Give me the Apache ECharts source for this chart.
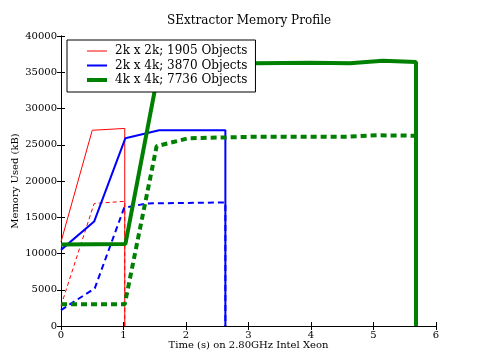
<!DOCTYPE html>
<html>
<head>
<meta charset="utf-8">
<script src="https://cdn.jsdelivr.net/npm/echarts@6/dist/echarts.min.js"></script>
<style>
  html, body { margin: 0; padding: 0; background: #fff; }
  #main { width: 485px; height: 363px; }
</style>
</head>
<body>
<div id="main"></div>
<script>
// time (s) and memory (kB)
const smallTime = [0, 0.5, 1.02, 1.02];
const smallMem = [11600, 27000, 27250, 0];
const smallDashTime = [0, 0.53, 1.02, 1.02];
const smallDashMem = [2800, 16900, 17200, 0];

const midTime = [0, 0.53, 1.03, 1.57, 2.63, 2.63];
const midMem = [10500, 14400, 25900, 27000, 27000, 0];
const midDashTime = [0, 0.54, 1.01, 1.37, 2.63, 2.63];
const midDashMem = [2200, 5200, 16300, 16900, 17050, 0];

const bigTime = [0, 1.03, 1.58, 3.1, 4.0, 4.62, 5.15, 5.68, 5.68];
const bigMem = [11250, 11300, 36100, 36230, 36300, 36250, 36600, 36400, 0];
const bigDashTime = [0, 1.02, 1.53, 2.04, 3.1, 4.57, 5.05, 5.68, 5.68];
const bigDashMem = [3000, 3000, 24800, 25900, 26100, 26100, 26300, 26250, 0];

const legendNames = ['2k x 2k; 1905 Objects', '2k x 4k; 3870 Objects', '4k x 4k; 7736 Objects'];
const legendWidths = [1, 2, 4];

const font = 'DejaVu Serif';

function pairs(xs, ys) {
    return xs.map((x, i) => [x, ys[i]]);
}

function line(name, xs, ys, color, width, dash) {
    return {
        name: name,
        type: 'line',
        data: pairs(xs, ys),
        symbol: 'none',
        animation: false,
        lineStyle: { color: color, width: width, type: dash || 'solid', cap: 'butt' },
        itemStyle: { color: color }
    };
}

const chart = echarts.init(document.getElementById('main'));

const axisLine = { show: true, lineStyle: { color: '#000', width: 1 } };
const tick = { show: true, inside: true, length: 4, lineStyle: { color: '#000' } };
const label = { color: '#000', fontFamily: font, fontSize: 10, formatter: v => String(v) };

let option = {
    backgroundColor: '#fff',
    title: {
        text: 'SExtractor Memory Profile',
        left: 167,
        top: 15,
        padding: 0,
        textStyle: { fontFamily: font, fontSize: 12, fontWeight: 'normal', color: '#000' }
    },
    grid: { left: 61, right: 49, top: 36, bottom: 37, containLabel: false, outerBoundsMode: 'none' },
    legend: {
        data: legendNames.map((n, i) => ({ name: n, lineStyle: { width: legendWidths[i] } })),
        orient: 'vertical',
        left: 67,
        top: 40,
        padding: [4, 8, 5, 18],
        itemGap: 0.5,
        itemWidth: 20,
        itemHeight: 10,
        borderColor: '#000',
        borderWidth: 1,
        backgroundColor: '#fff',
        selectedMode: false,
        itemStyle: { opacity: 0 },
        textStyle: { fontFamily: font, fontSize: 12, color: '#000', lineHeight: 14, padding: [0, 0, 0, 3] }
    },
    xAxis: [{
        type: 'value', min: 0, max: 6, interval: 1, position: 'bottom',
        axisLine: axisLine, axisTick: tick, splitLine: { show: false },
        axisLabel: Object.assign({ margin: 4 }, label),
        name: 'Time (s) on 2.80GHz Intel Xeon', nameLocation: 'middle', nameGap: 14,
        nameMoveOverlap: false,
        nameTextStyle: { fontFamily: font, fontSize: 10, color: '#000' }
    }, {
        type: 'value', min: 0, max: 6, interval: 1, position: 'top',
        axisLine: axisLine, axisTick: tick, splitLine: { show: false },
        axisLabel: { show: false }
    }],
    yAxis: [{
        type: 'value', min: 0, max: 40000, interval: 5000, position: 'left',
        axisLine: axisLine, axisTick: tick, splitLine: { show: false },
        axisLabel: Object.assign({ margin: 4 }, label),
        name: 'Memory Used (kB)', nameLocation: 'middle', nameGap: 41,
        nameMoveOverlap: false,
        nameTextStyle: { fontFamily: font, fontSize: 10, color: '#000' }
    }, {
        type: 'value', min: 0, max: 40000, interval: 5000, position: 'right',
        axisLine: axisLine, axisTick: tick, splitLine: { show: false },
        axisLabel: { show: false }
    }],
    series: [
        line(legendNames[0], smallTime, smallMem, '#ff0000', 1),
        line('small dashed', smallDashTime, smallDashMem, '#ff0000', 1, [4, 3]),
        line(legendNames[1], midTime, midMem, '#0000ff', 2),
        line('mid dashed', midDashTime, midDashMem, '#0000ff', 2, [6, 4]),
        line(legendNames[2], bigTime, bigMem, '#008000', 4),
        line('big dashed', bigDashTime, bigDashMem, '#008000', 4, [6, 4])
    ]
};

option && chart.setOption(option);
</script>
</body>
</html>
